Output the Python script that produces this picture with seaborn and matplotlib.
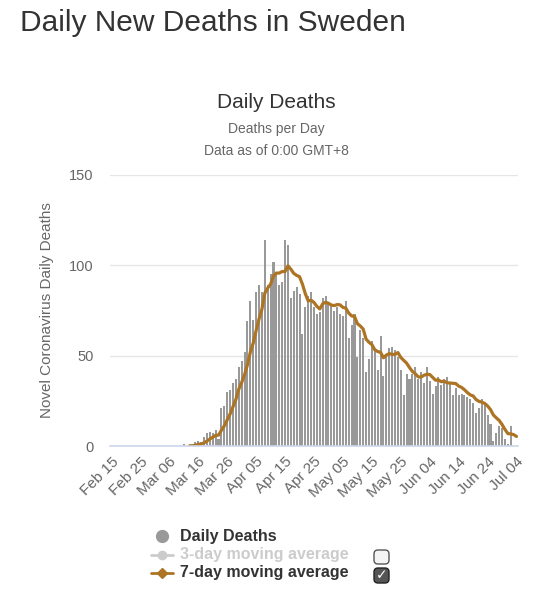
import numpy as np
import pandas as pd
import matplotlib
matplotlib.use('Agg')
import matplotlib.pyplot as plt
import seaborn as sns
from matplotlib.patches import FancyBboxPatch

# Daily deaths, Feb 15 -> Jul 04 2020
dates = pd.date_range('2020-02-15', '2020-07-04', freq='D')
daily_deaths = [
    0, 0, 0, 0, 0, 0, 0, 0, 0, 0,          # Feb 15 - Feb 24
    0, 0, 0, 0, 0, 0, 0, 0, 0, 0,          # Feb 25 - Mar 05
    0, 0, 0, 0, 0, 1, 0, 0, 0, 2,          # Mar 06 - Mar 15
    3, 2, 5, 7, 8, 7, 9, 4, 21, 22,        # Mar 16 - Mar 25
    30, 31, 35, 37, 44, 47, 52, 69, 80, 70,  # Mar 26 - Apr 04
    85, 89, 85, 114, 89, 95, 102, 96, 89, 91,  # Apr 05 - Apr 14
    114, 111, 82, 86, 88, 84, 62, 77, 83, 85,  # Apr 15 - Apr 24
    77, 73, 74, 82, 83, 79, 78, 75, 77, 73,  # Apr 25 - May 04
    72, 80, 60, 67, 73, 49, 64, 60, 41, 48,  # May 05 - May 14
    58, 53, 42, 61, 39, 51, 54, 55, 53, 49,  # May 15 - May 24
    42, 28, 40, 37, 40, 44, 37, 41, 35, 44,  # May 25 - Jun 03
    36, 29, 33, 38, 34, 37, 38, 35, 28, 32,  # Jun 04 - Jun 13
    28, 29, 28, 27, 26, 24, 18, 21, 26, 23,  # Jun 14 - Jun 23
    17, 12, 3, 7, 11, 10, 4, 1, 11, 0,      # Jun 24 - Jul 03
    0,                                      # Jul 04
]
avg_start = '2020-03-13'   # first day the 7-day average is shown

df = pd.DataFrame({'date': dates, 'deaths': daily_deaths})
df['pos'] = np.arange(len(df))
df['avg7'] = df['deaths'].rolling(7, min_periods=1).mean()
df.loc[df['date'] < avg_start, 'avg7'] = np.nan

BAR_COLOR = '#999999'
LINE_COLOR = '#ad7424'
TEXT_GRAY = '#666666'
DARK = '#333333'

sns.set_style('white')
plt.rcParams['font.family'] = ['Liberation Sans', 'DejaVu Sans']

fig = plt.figure(figsize=(5.52, 6.0), dpi=100)
ax = fig.add_axes([110 / 552, 1 - 446 / 600, 408 / 552, 271 / 600])

sns.barplot(data=df, x='pos', y='deaths', color=BAR_COLOR, saturation=1,
            width=0.7, linewidth=0, ax=ax, native_scale=True)
sns.lineplot(data=df, x='pos', y='avg7', color=LINE_COLOR, linewidth=2.3, ax=ax)

ax.set_xlim(-0.5, len(df) - 0.5)
ax.set_ylim(0, 150)
ax.set_yticks([0, 50, 100, 150])
ax.yaxis.grid(True, color='#e6e6e6', linewidth=1)
ax.set_axisbelow(True)
for s in ['top', 'right', 'left']:
    ax.spines[s].set_visible(False)
ax.spines['bottom'].set_color('#ccd6eb')
ax.spines['bottom'].set_linewidth(1.2)

ticks = list(range(0, len(df), 10))
ax.set_xticks(ticks)
ax.set_xticklabels(df['date'].iloc[ticks].dt.strftime('%b %d'), rotation=45,
                   ha='right', rotation_mode='anchor', color=TEXT_GRAY, fontsize=11)
ax.tick_params(axis='x', length=0, pad=6)
ax.tick_params(axis='y', length=0, pad=12, labelcolor=TEXT_GRAY, labelsize=10.5)
ax.set_xlabel('')
ax.set_ylabel('')

# overlay in pixel coordinates for titles and the legend
ov = fig.add_axes([0, 0, 1, 1])
ov.set_xlim(0, 552)
ov.set_ylim(600, 0)
ov.axis('off')

ov.text(20, 31, 'Daily New Deaths in Sweden', fontsize=21.5, color=DARK, va='baseline')
ov.text(276, 108, 'Daily Deaths', fontsize=15, color=DARK, ha='center', va='baseline')
ov.text(276, 133, 'Deaths per Day', fontsize=10, color=TEXT_GRAY, ha='center', va='baseline')
ov.text(276, 155, 'Data as of 0:00 GMT+8', fontsize=10, color=TEXT_GRAY, ha='center', va='baseline')
ov.text(47, 310, 'Novel Coronavirus Daily Deaths', fontsize=11, color=TEXT_GRAY,
        rotation=90, ha='center', va='center')

# legend
ov.plot([162], [536], marker='o', markersize=8.5, color=BAR_COLOR, linestyle='none')
ov.text(180, 536, 'Daily Deaths', fontsize=11.5, fontweight='bold', color=DARK, va='center')
ov.plot([151, 173], [554.5, 554.5], color='#cccccc', linewidth=2)
ov.plot([162], [554.5], marker='o', markersize=6, color='#cccccc')
ov.text(180, 554.5, '3-day moving average', fontsize=11.5, fontweight='bold', color='#cccccc', va='center')
ov.plot([151, 173], [573, 573], color=LINE_COLOR, linewidth=2)
ov.plot([162], [573], marker='D', markersize=5, color=LINE_COLOR)
ov.text(180, 573, '7-day moving average', fontsize=11.5, fontweight='bold', color=DARK, va='center')

# checkboxes
ov.add_patch(FancyBboxPatch((374, 550), 15, 14, boxstyle='round,pad=0,rounding_size=4',
                            facecolor='#f4f4f4', edgecolor='#555555', linewidth=1))
ov.add_patch(FancyBboxPatch((374, 568), 15, 15, boxstyle='round,pad=0,rounding_size=4',
                            facecolor='#555555', edgecolor='#222222', linewidth=1))
ov.text(381.5, 575.5, '\u2713', fontsize=10, color='white', ha='center', va='center',
        fontweight='bold', family=['DejaVu Sans'])

fig.savefig('out.png', dpi=100)
